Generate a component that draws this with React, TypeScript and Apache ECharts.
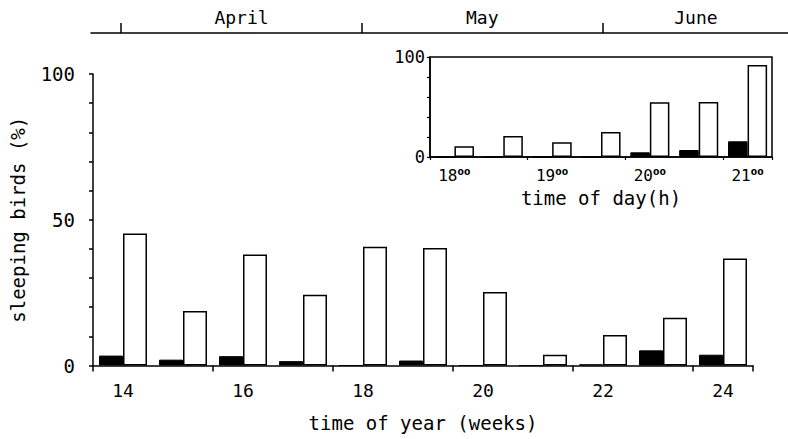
import React, { useEffect, useRef } from 'react';
import * as echarts from 'echarts';

// Main chart: time of year (weeks)
const weekCategories = ['14', '15', '16', '17', '18', '19', '20', '21', '22', '23', '24'];
const weekDark = [3.4, 2.0, 3.2, 1.5, 0, 1.7, 0, 0, 0.4, 5.2, 3.7];
const weekLight = [45.3, 18.7, 38.1, 24.3, 40.7, 40.3, 25.2, 3.7, 10.5, 16.4, 36.7];

// Inset: time of day (h)
const hourCategories = ['18⁰⁰', '18³⁰', '19⁰⁰', '19³⁰', '20⁰⁰', '20³⁰', '21⁰⁰'];
const hourDark = [0, 0, 0, 0, 4.7, 7.0, 15.7];
const hourLight = [10.7, 21.0, 14.7, 25.0, 54.7, 55.0, 92.0];

// Month scale above the chart (in weeks)
const monthNames = ['April', 'May', 'June'];
const monthLabelWeeks = [16, 20, 23.55];
const monthBoundaryWeeks = [14, 18, 22];

const FONT = 'DejaVu Sans Mono';
const BLACK = '#000';

const axisLine = { show: true, lineStyle: { color: BLACK, width: 1.5 } };

export default function App() {
  const ref = useRef<HTMLDivElement>(null);

  useEffect(() => {
    document.body.style.margin = '0';
    const chart = echarts.init(ref.current!, null, { renderer: 'svg' });
    const option: any = {
      animation: false,
      backgroundColor: '#fff',
      textStyle: { fontFamily: FONT, color: BLACK },
      grid: [
        { left: 91, right: 35, top: 74, bottom: 73.5 },
        {
          left: 430,
          right: 16,
          top: 57,
          height: 100,
          show: true,
          borderColor: BLACK,
          borderWidth: 1.5,
          backgroundColor: 'transparent',
        },
        { left: 91, right: 0, top: 32, height: 1 },
      ],
      xAxis: [
        {
          gridIndex: 0,
          type: 'category',
          data: weekCategories,
          axisLine,
          axisTick: { show: true, length: 6, lineStyle: { color: BLACK, width: 1.5 } },
          axisLabel: { interval: 1, color: BLACK, fontFamily: FONT, fontSize: 18, margin: 16 },
          name: 'time of year (weeks)',
          nameLocation: 'middle',
          nameGap: 48,
          nameTextStyle: { color: BLACK, fontFamily: FONT, fontSize: 19 },
        },
        {
          gridIndex: 1,
          type: 'category',
          data: hourCategories,
          axisLine,
          axisTick: { show: true, length: 3, lineStyle: { color: BLACK, width: 1.2 } },
          axisLabel: {
            interval: 1,
            color: BLACK,
            fontFamily: FONT,
            fontSize: 16,
            margin: 10,
            formatter: (v: string) => `{h|${v.slice(0, 2)}}{s|${v.slice(2)}}`,
            rich: {
              h: { fontFamily: FONT, fontSize: 16, color: BLACK },
              s: { fontFamily: 'DejaVu Sans', fontSize: 15, fontWeight: 'bold', color: BLACK },
            },
          },
          name: 'time of day(h)',
          nameLocation: 'middle',
          nameGap: 31,
          nameTextStyle: { color: BLACK, fontFamily: FONT, fontSize: 19 },
        },
        {
          gridIndex: 2,
          type: 'value',
          position: 'top',
          min: 13.5,
          max: 25.08,
          axisLine,
          splitLine: { show: false },
          axisTick: {
            show: true,
            length: 10,
            customValues: monthBoundaryWeeks,
            lineStyle: { color: BLACK, width: 1.5 },
          },
          axisLabel: {
            show: true,
            customValues: monthLabelWeeks,
            margin: 6,
            color: BLACK,
            fontFamily: FONT,
            fontSize: 18,
            formatter: (v: number) => {
              const i = monthLabelWeeks.findIndex((w) => Math.abs(w - v) < 0.01);
              return i >= 0 ? monthNames[i] : '';
            },
          },
        },
      ],
      yAxis: [
        {
          gridIndex: 0,
          type: 'value',
          min: 0,
          max: 100,
          interval: 10,
          axisLine,
          axisTick: { show: true, length: 4, lineStyle: { color: BLACK, width: 1.5 } },
          splitLine: { show: false },
          axisLabel: {
            color: BLACK,
            fontFamily: FONT,
            fontSize: 19,
            margin: 18,
            formatter: (v: number) => (v % 50 === 0 ? String(v) : ''),
          },
          name: 'sleeping birds (%)',
          nameLocation: 'middle',
          nameGap: 66,
          nameTextStyle: { color: BLACK, fontFamily: FONT, fontSize: 19 },
        },
        {
          gridIndex: 1,
          type: 'value',
          min: 0,
          max: 100,
          interval: 20,
          axisLine,
          axisTick: { show: true, length: 3, lineStyle: { color: BLACK, width: 1.2 } },
          splitLine: { show: false },
          axisLabel: {
            color: BLACK,
            fontFamily: FONT,
            fontSize: 17,
            margin: 5,
            formatter: (v: number) => (v === 0 || v === 100 ? String(v) : ''),
          },
        },
        { gridIndex: 2, type: 'value', show: false },
      ],
      series: [
        {
          type: 'bar',
          xAxisIndex: 0,
          yAxisIndex: 0,
          data: weekDark,
          barGap: '0%',
          barCategoryGap: '20%',
          itemStyle: { color: BLACK, borderColor: BLACK, borderWidth: 1 },
        },
        {
          type: 'bar',
          xAxisIndex: 0,
          yAxisIndex: 0,
          data: weekLight,
          barGap: '0%',
          barCategoryGap: '20%',
          itemStyle: { color: '#fff', borderColor: BLACK, borderWidth: 1.5 },
        },
        {
          type: 'bar',
          xAxisIndex: 1,
          yAxisIndex: 1,
          data: hourDark,
          barGap: '0%',
          barCategoryGap: '20%',
          itemStyle: { color: BLACK, borderColor: BLACK, borderWidth: 1 },
        },
        {
          type: 'bar',
          xAxisIndex: 1,
          yAxisIndex: 1,
          data: hourLight,
          barGap: '0%',
          barCategoryGap: '20%',
          itemStyle: { color: '#fff', borderColor: BLACK, borderWidth: 1.5 },
        },
      ],
    };
    chart.setOption(option);
    return () => chart.dispose();
  }, []);

  return <div ref={ref} style={{ width: 788, height: 439 }} />;
}
